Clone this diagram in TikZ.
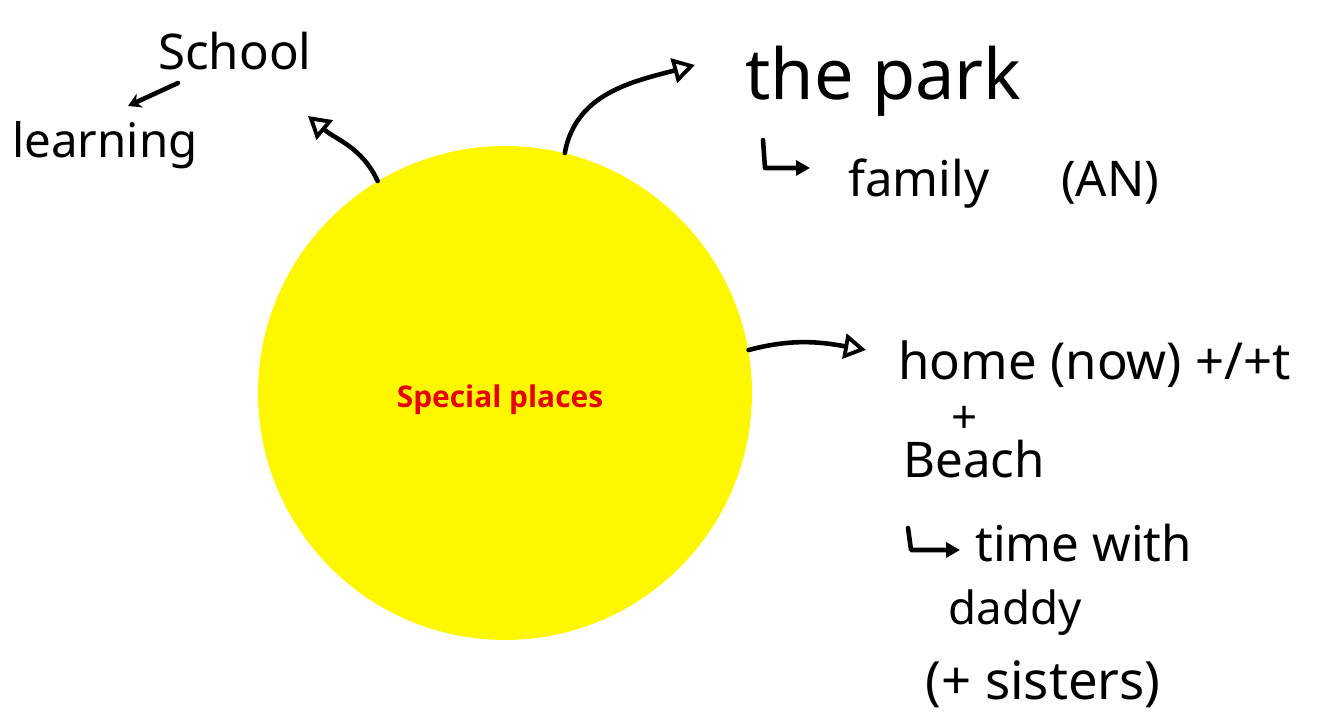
\documentclass[tikz,border=0pt]{standalone}
\usepackage{fontspec}
\setmainfont{Noto Sans}
\newfontfamily\labelfont{Open Sans}
\usetikzlibrary{arrows.meta,positioning}
\definecolor{sunfill}{HTML}{FFF700}
\definecolor{labelred}{HTML}{E60000}
\definecolor{ink}{HTML}{000000}

\begin{document}
\begin{tikzpicture}[x=0.02cm,y=0.02cm,
    hand/.style={inner sep=0pt,anchor=base west,text=ink,font=\fontsize{28}{32}\selectfont},
    pen/.style={draw=ink,line width=2.6pt,line cap=round,line join=round},
    arrow/.style={pen,-{Triangle[open,length=4.4mm,width=5mm,line width=2.2pt]}},
    hookarrow/.style={pen,-{Triangle[length=2.8mm,width=3mm]}}]
  \useasboundingbox (0,0) rectangle (1328,722);
  \fill[white] (0,0) rectangle (1328,722);

  % centre
  \node[circle,fill=sunfill,minimum size=9.88cm,inner sep=0pt] (sun) at (505,329) {};
  \node[text=labelred,font=\labelfont\bfseries\fontsize{17}{20}\selectfont] (title) at (500,322) {Special places};

  % words round it
  \node[hand] (school) at (158,652) {School};
  \node[hand,font=\fontsize{27}{30}\selectfont] (learning) at (12,564) {learning};
  \node[hand,font=\fontsize{40}{44}\selectfont] (park) at (745,622) {the park};
  \node[hand] (family) at (848,525) {family \hspace{1.2em}(AN)};
  \node[hand,font=\fontsize{29}{33}\selectfont] (home) at (898,342) {home (now) +/+t};
  \node[inner sep=0pt,text=ink,font=\fontsize{26}{30}\selectfont] (plus) at (965,302) {+};
  \node[hand] (beach) at (903,244) {Beach};
  \node[hand] (time) at (975,160) {time with};
  \node[hand,font=\fontsize{26}{30}\selectfont] (daddy) at (948,97) {daddy};
  \node[hand,font=\fontsize{30}{34}\selectfont] (sisters) at (925,22) {(+ sisters)};

  \coordinate (schooltip) at (308,606);
  \coordinate (parktip) at (695,657);
  \coordinate (hometip) at (866,372);
  \coordinate (hookpark) at (763,582);
  \coordinate (hookbeach) at (908,194);

  \draw[arrow] (sun.121) to[out=115,in=-40] (schooltip);
  \draw[arrow] (sun.76) to[out=80,in=195] (parktip);
  \draw[arrow] (sun.10) to[out=15,in=170] (hometip);
  \draw[pen,-{Stealth[length=2.6mm,width=3mm]}] ([shift={(20,-13)}]school.base west) -- ([shift={(116,52)}]learning.base west);
  \draw[hookarrow] (hookpark) -- ++(2,-28) -- ([shift={(-38,29)}]family.base west);
  \draw[hookarrow] (hookbeach) -- ++(3,-22) -- ([shift={(-15,12)}]time.base west);
\end{tikzpicture}
\end{document}
